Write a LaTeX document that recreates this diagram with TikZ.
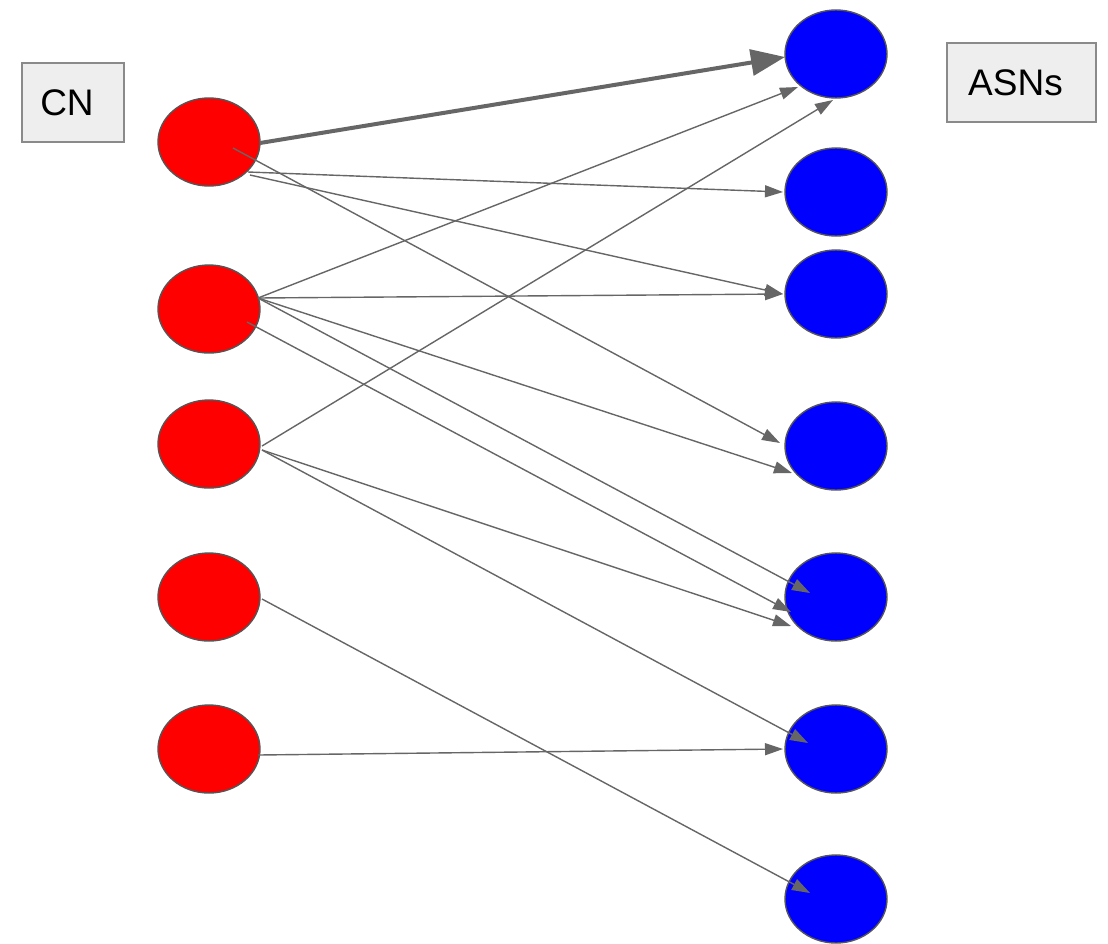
\documentclass[tikz,border=0pt]{standalone}
\usepackage{fontspec}
\setmainfont{Liberation Sans}
\usetikzlibrary{arrows.meta,shapes.geometric,calc}
\definecolor{edgegray}{HTML}{666666}
\definecolor{outl}{HTML}{555555}
\definecolor{boxfill}{HTML}{EEEEEE}
\definecolor{boxline}{HTML}{8A8A8A}
\begin{document}
\begin{tikzpicture}[x=1pt,y=-1pt,
  rnode/.style={ellipse,draw=outl,line width=1.4pt,fill=red,minimum width=102pt,minimum height=88pt,inner sep=0pt},
  bnode/.style={ellipse,draw=outl,line width=1.4pt,fill=blue,minimum width=102pt,minimum height=88pt,inner sep=0pt},
  label box/.style={rectangle,draw=boxline,line width=1.6pt,fill=boxfill,inner sep=0pt,font=\fontsize{37}{40}\selectfont},
  edge line/.style={draw=edgegray,line width=1.4pt,-{Triangle[length=18pt,width=12pt]}},
  thick edge/.style={draw=edgegray,line width=4pt,-{Triangle[length=34pt,width=26pt]}}]
\useasboundingbox (0,0) rectangle (1108,943);
% label boxes
\node[label box,minimum width=102pt,minimum height=79pt] (cn) at (73,102.5) {\hspace*{-12pt}CN};
\node[label box,minimum width=149pt,minimum height=79pt] (asns) at (1021.5,82.5) {\hspace*{-12pt}ASNs};
% red nodes
\node[rnode] (r1) at (209,142) {};
\node[rnode] (r2) at (209,309) {};
\node[rnode] (r3) at (209,444) {};
\node[rnode] (r4) at (209,597) {};
\node[rnode] (r5) at (209,749) {};
% blue nodes
\node[bnode] (b1) at (836,54) {};
\node[bnode] (b2) at (836,192) {};
\node[bnode] (b3) at (836,294) {};
\node[bnode] (b4) at (836,446) {};
\node[bnode] (b5) at (836,597) {};
\node[bnode] (b6) at (836,749) {};
\node[bnode] (b7) at (836,899) {};
% edges
\draw[thick edge] ($(r1)+(51,1)$) -- ($(b1)+(-51,3)$);
\draw[edge line] ($(r1)+(39,30)$) -- ($(b2)+(-53,0)$);
\draw[edge line] ($(r1)+(41,33)$) -- ($(b3)+(-53,0)$);
\draw[edge line] ($(r1)+(24,6)$) -- ($(b4)+(-56,-3)$);
\draw[edge line] ($(r2)+(49,-11)$) -- ($(b1)+(-38,33)$);
\draw[edge line] ($(r2)+(49,-11)$) -- ($(b3)+(-53,0)$);
\draw[edge line] ($(r2)+(49,-11)$) -- ($(b4)+(-44,27)$);
\draw[edge line] ($(r2)+(49,-11)$) -- ($(b5)+(-26,-4)$);
\draw[edge line] ($(r2)+(38,13)$) -- ($(b5)+(-45,15)$);
\draw[edge line] ($(r3)+(53,2)$) -- ($(b1)+(-3,46)$);
\draw[edge line] ($(r3)+(53,6)$) -- ($(b5)+(-45,29)$);
\draw[edge line] ($(r3)+(53,6)$) -- ($(b6)+(-28,-6)$);
\draw[edge line] ($(r4)+(53,2)$) -- ($(b7)+(-26,-6)$);
\draw[edge line] ($(r5)+(49,6)$) -- ($(b6)+(-53,0)$);
\end{tikzpicture}
\end{document}
